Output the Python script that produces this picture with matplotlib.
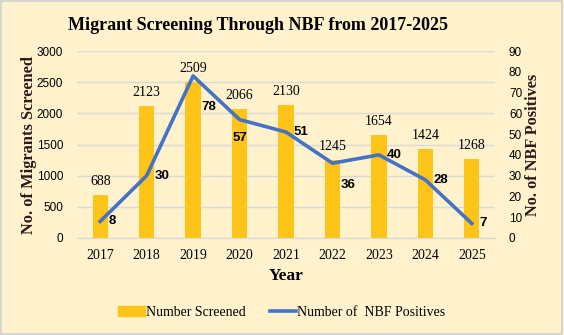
import matplotlib
matplotlib.use("Agg")
import numpy as np
from matplotlib import pyplot as plt
from matplotlib.patches import Patch
from matplotlib.lines import Line2D

years = ["2017", "2018", "2019", "2020", "2021", "2022", "2023", "2024", "2025"]
screened = [688, 2123, 2509, 2066, 2130, 1245, 1654, 1424, 1268]
positives = [8, 30, 78, 57, 51, 36, 40, 28, 7]

# where each positive label sits relative to its point (pixels: dx, dy)
pos_offsets = [(8, 0), (8, 0), (8, -31), (0, -18), (8, 0), (8, -22), (8, 0), (8, 0), (8, 0)]

BG = "#FFF2CC"
GOLD = "#FFC418"
BLUE = "#4472C4"
SERIF = "Liberation Serif"
SANS = "Liberation Sans"

fig = plt.figure(figsize=(5.64, 3.35), dpi=100, facecolor=BG)
fig.patches.append(plt.Rectangle((0.002, 0.003), 0.995, 0.994, transform=fig.transFigure,
                                 fill=False, edgecolor="#D0D0D0", lw=1.2))

ax = fig.add_axes([77 / 564, 1 - 238 / 335, (495 - 77) / 564, (238 - 51) / 335])
ax.set_facecolor(BG)
ax2 = ax.twinx()

x = np.arange(len(years))
ax.bar(x, screened, width=0.33, color=GOLD, zorder=2)
ax.set_xlim(-0.5, len(years) - 0.5)
ax.set_ylim(0, 3000)
ax.set_yticks(range(0, 3001, 500))
ax.grid(axis="y", color="#D9D9D9", lw=1, zorder=0)
ax.set_axisbelow(True)
for s in ["top", "left", "right"]:
    ax.spines[s].set_visible(False)
    ax2.spines[s].set_visible(False)
ax.spines["bottom"].set_color("#D9D9D9")
ax2.spines["bottom"].set_visible(False)

ax.set_xticks(x)
ax.set_xticklabels(years, fontfamily=SERIF, fontsize=10)
ax.tick_params(axis="both", length=0)
ax.tick_params(axis="x", pad=8)
ax.tick_params(axis="y", pad=10)
for t in ax.get_yticklabels():
    t.set_fontfamily(SANS)
    t.set_fontsize(8.5)

for xi, v in zip(x, screened):
    ax.annotate(str(v), (xi, v), xytext=(0, 5), textcoords="offset points",
                ha="center", va="bottom", fontfamily=SERIF, fontsize=10)

ax2.plot(x, positives, color=BLUE, lw=2.6, zorder=3)
ax2.set_ylim(0, 90)
ax2.set_yticks(range(0, 91, 10))
ax2.tick_params(axis="y", length=0, pad=10)
for t in ax2.get_yticklabels():
    t.set_fontfamily(SANS)
    t.set_fontsize(8.5)

for xi, v, (dx, dy) in zip(x, positives, pos_offsets):
    ha = "left" if dx > 0 else "center"
    ax2.annotate(str(v), (xi, v), xytext=(dx * 0.72, dy * 0.72),
                 textcoords="offset points", ha=ha, va="center",
                 fontfamily=SANS, fontsize=9.5, fontweight="bold")

ax.set_ylabel("No. of Migrants Screened", fontfamily=SERIF, fontsize=11.8,
              fontweight="bold", color="#2a1a1a", labelpad=0)
ax2.set_ylabel("No. of NBF Positives", fontfamily=SERIF, fontsize=11.7,
               fontweight="bold", color="#2a1a1a", labelpad=2)
ax.set_xlabel("Year", fontfamily=SERIF, fontsize=12.5, fontweight="bold", labelpad=4)

fig.text(258 / 564, 1 - 25 / 335, "Migrant Screening Through NBF from 2017-2025",
         ha="center", va="center", fontfamily=SERIF, fontsize=13, fontweight="bold")

handles = [Patch(color=GOLD), Line2D([0], [0], color=BLUE, lw=2.6)]
fig.legend(handles, ["Number Screened", "Number of  NBF Positives"], loc="center",
           bbox_to_anchor=(0.5, 1 - 312 / 335), ncol=2, frameon=False,
           prop={"family": SERIF, "size": 10}, handlelength=1.9, columnspacing=1.7,
           handletextpad=0.1)

plt.savefig("out.png", dpi=100, facecolor=BG)
